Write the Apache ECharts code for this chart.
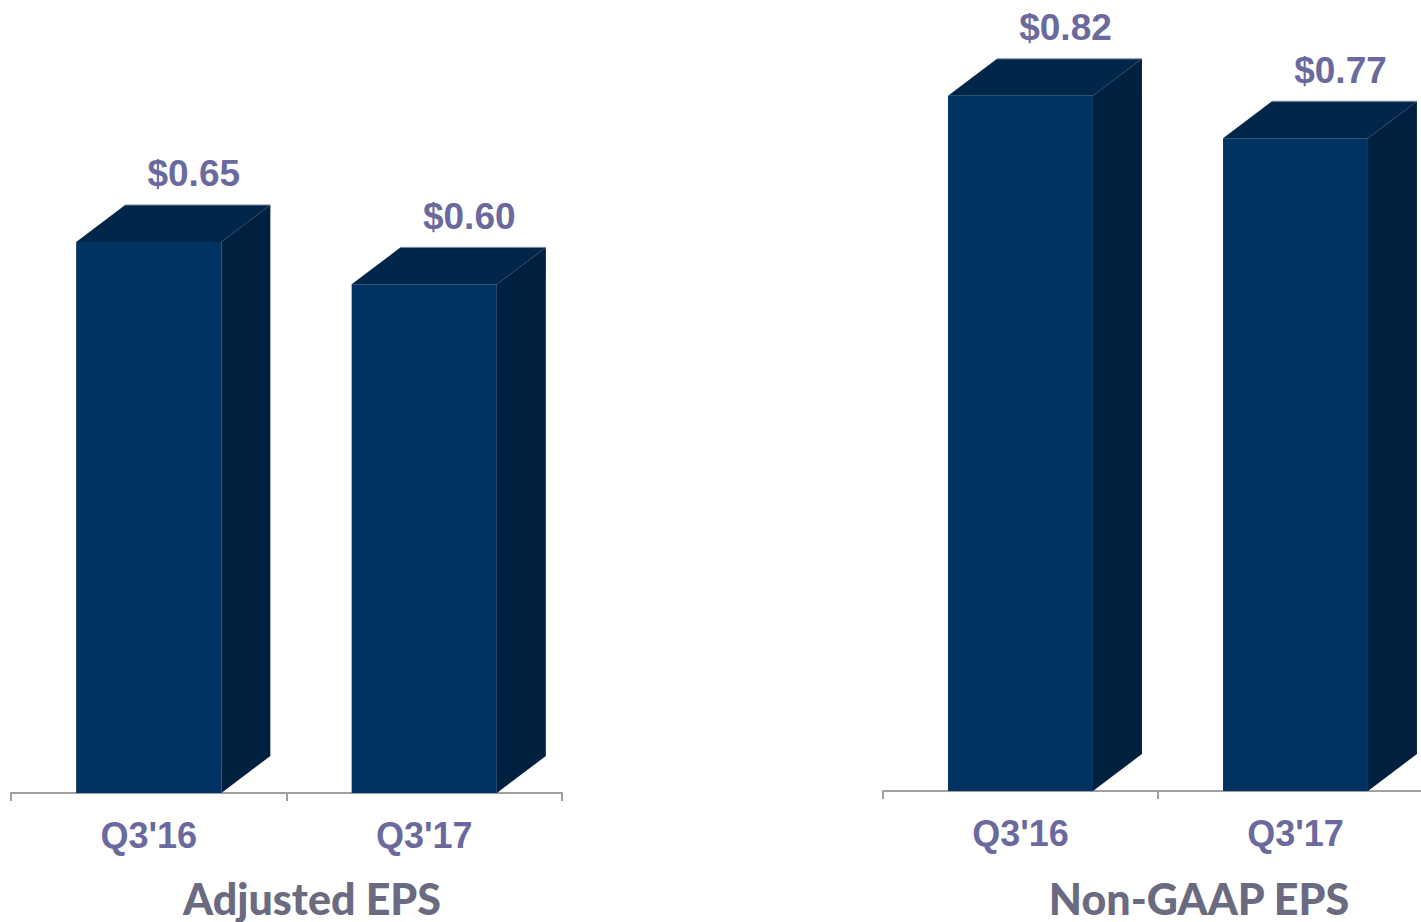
<!DOCTYPE html>
<html>
<head>
<meta charset="utf-8">
<title>EPS</title>
<script src="https://cdn.jsdelivr.net/npm/echarts@6/dist/echarts.min.js"></script>
<style>
    html, body { margin: 0; padding: 0; background: #ffffff; overflow: hidden; }
    /* a bit wider than the window: the right axis runs past the edge in the original */
    #chart { width: 1433px; height: 922px; }
</style>
</head>
<body>
<div id="chart"></div>
<script>
    // data
    const categories = ["Q3'16", "Q3'17"];
    const adjustedEps = [0.65, 0.60];
    const nonGaapEps = [0.82, 0.77];
    const panelTitles = ["Adjusted EPS", "Non-GAAP EPS"];

    const FRONT = "#003361";
    const TOP = "#00264a";
    const SIDE = "#00203f";
    const LABEL = "#6a6a9f";
    const TITLE = "#6a6a80";
    const DX = 49, DY = 37;

    const toPoints = (vals) => vals.map((v, i) => [i, v]);

    // draws one 3D box: front face, top, right side and the value label
    const renderBox = (params, api) => {
        const idx = api.value(0);
        const val = api.value(1);
        const top = api.coord([idx, val]);
        const base = api.coord([idx, 0]);
        const band = api.size([1, 0])[0];
        const w = band * 0.527;
        const x0 = top[0] - w / 2;
        const x1 = top[0] + w / 2;
        return {
            type: "group",
            children: [
                {
                    type: "rect",
                    shape: { x: x0, y: top[1], width: w, height: base[1] - top[1] },
                    style: { fill: FRONT }
                },
                {
                    type: "polygon",
                    shape: { points: [[x0, top[1]], [x0 + DX, top[1] - DY], [x1 + DX, top[1] - DY], [x1, top[1]]] },
                    style: { fill: TOP }
                },
                {
                    type: "polygon",
                    shape: { points: [[x1, top[1]], [x1 + DX, top[1] - DY], [x1 + DX, base[1] - DY], [x1, base[1]]] },
                    style: { fill: SIDE }
                },
                {
                    type: "line",
                    shape: { x1: x0 + DX, y1: top[1] - DY, x2: x1 + DX, y2: top[1] - DY },
                    style: { stroke: "#8293ab", lineWidth: 1 }
                },
                {
                    type: "text",
                    x: top[0] + 45,
                    y: top[1] - 68,
                    style: {
                        text: "$" + val.toFixed(2),
                        fill: LABEL,
                        font: "bold 37px 'Liberation Sans', Arial, sans-serif",
                        align: "center",
                        verticalAlign: "middle"
                    }
                }
            ]
        };
    };

    const xAxisBase = (gridIndex) => ({
        gridIndex: gridIndex,
        type: "category",
        data: categories,
        axisLine: { show: true, lineStyle: { color: "#a0a0a0", width: 2 } },
        axisTick: { show: true, length: 8, lineStyle: { color: "#a0a0a0", width: 2 } },
        axisLabel: {
            margin: 24,
            color: LABEL,
            fontSize: 36,
            fontWeight: "bold",
            fontFamily: "'Liberation Sans', Arial, sans-serif"
        },
        splitLine: { show: false }
    });

    const yAxisBase = (gridIndex) => ({
        gridIndex: gridIndex,
        type: "value",
        min: 0,
        max: 0.9,
        show: false
    });

    const titleText = (x, text) => ({
        type: "text",
        x: x,
        y: 898,
        style: {
            text: text,
            fill: TITLE,
            font: "900 43px Lato, 'Open Sans', sans-serif",
            align: "center",
            verticalAlign: "middle"
        }
    });

    const chart = echarts.init(document.getElementById("chart"), null, { renderer: "svg" });

    const options = {
        animation: false,
        backgroundColor: "#ffffff",
        grid: [
            { left: 11, width: 551, top: 30, bottom: 129 },
            { left: 883, right: 0, top: 28, bottom: 131 }
        ],
        xAxis: [xAxisBase(0), xAxisBase(1)],
        yAxis: [yAxisBase(0), yAxisBase(1)],
        graphic: [titleText(312, panelTitles[0]), titleText(1199, panelTitles[1])],
        series: [
            {
                type: "custom",
                xAxisIndex: 0,
                yAxisIndex: 0,
                renderItem: renderBox,
                data: toPoints(adjustedEps)
            },
            {
                type: "custom",
                xAxisIndex: 1,
                yAxisIndex: 1,
                renderItem: renderBox,
                data: toPoints(nonGaapEps)
            }
        ]
    };

    chart.setOption(options);
</script>
</body>
</html>
